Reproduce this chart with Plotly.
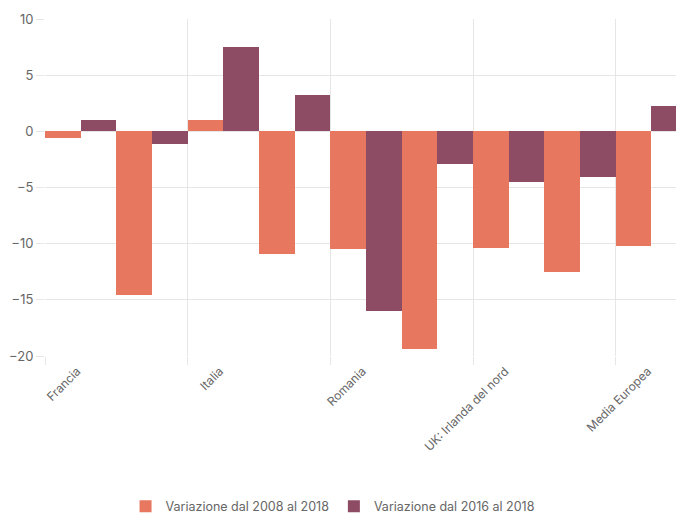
import plotly.graph_objects as go

categories = ["Francia", "Germania", "Italia", "Spagna", "Romania", "Polonia",
              "UK: Irlanda del nord", "UK: Scozia", "Media Europea"]
series_2008_2018 = [-0.6, -14.6, 1.0, -10.9, -10.5, -19.4, -10.4, -12.5, -10.2]
series_2016_2018 = [1.0, -1.1, 7.5, 3.2, -16.0, -2.9, -4.5, -4.1, 2.3]
series_names = ["Variazione dal 2008 al 2018", "Variazione dal 2016 al 2018"]
y_ticks = [10, 5, 0, -5, -10, -15, -20]

idx = list(range(len(categories)))
shown = idx[::2]

fig = go.Figure()
fig.add_trace(go.Bar(x=idx, y=series_2008_2018, name=series_names[0],
                     offset=0, width=0.5, marker_color="#E8775F",
                     marker_line_width=0, hovertext=categories))
fig.add_trace(go.Bar(x=idx, y=series_2016_2018, name=series_names[1],
                     offset=0.5, width=0.5, marker_color="#8D4C63",
                     marker_line_width=0, hovertext=categories))

font_fam = "Inter, Roboto, Liberation Sans, sans-serif"
fig.update_layout(
    width=676, height=514,
    margin=dict(l=37, r=0, t=11, b=161),
    paper_bgcolor="white", plot_bgcolor="white",
    font=dict(family=font_fam, color="#666666", size=12),
    bargap=0,
    showlegend=True,
    legend=dict(orientation="h", x=0.45, xanchor="center", y=-0.447, yanchor="middle",
                font=dict(size=12.5, color="#666666"), itemwidth=30,
                traceorder="normal"),
)
fig.update_xaxes(
    automargin=False,
    range=[0, 9 * 639 / 642],
    tickmode="array",
    tickvals=[i + 0.45 for i in shown],
    ticktext=[categories[i] for i in shown],
    tickangle=-45,
    ticklabelstandoff=5,
    showgrid=False,
    ticks="",
    zeroline=False,
    showline=False,
    tickfont=dict(size=12, color="#666666"),
    minor=dict(tickvals=shown, showgrid=True, gridcolor="#e6e6e6", gridwidth=1,
               ticks="outside", ticklen=8, tickcolor="#e6e6e6"),
)
fig.update_yaxes(
    automargin=False,
    range=[-20, 10],
    tickmode="array",
    tickvals=y_ticks,
    showgrid=True, gridcolor="#e6e6e6", gridwidth=1,
    zeroline=True, zerolinecolor="#e6e6e6", zerolinewidth=1,
    ticks="outside", ticklen=8, tickcolor="#e6e6e6",
    tickfont=dict(size=13, color="#666666"),
    showline=False,
)

fig.write_html("out.html")
